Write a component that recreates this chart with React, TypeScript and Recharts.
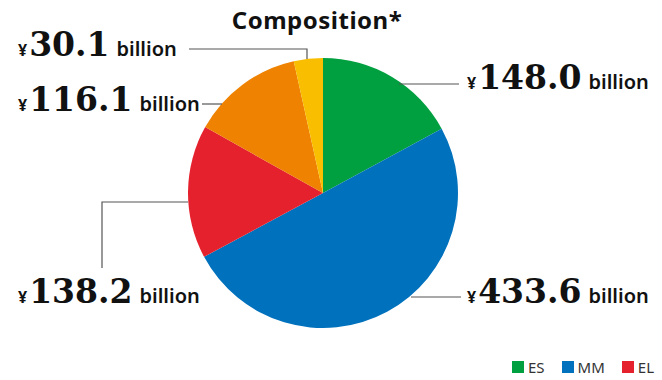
import React from 'react';
import { PieChart, Pie, Cell, Legend } from 'recharts';

const categories = ['ES', 'MM', 'EL', 'Other A', 'Other B'];
const values = [148.0, 433.6, 138.2, 116.1, 30.1];
const valueLabels = ['148.0', '433.6', '138.2', '116.1', '30.1'];
const colors = ['#00a040', '#0071bc', '#e6212e', '#ef8200', '#f9be00'];
const legendCategories = ['ES', 'MM', 'EL'];

const data = categories.map((name, i) => ({ name, value: values[i], label: valueLabels[i] }));

// label layout, offsets relative to pie center
type Layout = { tx: number; ty: number; line: [number, number][] };
const labelLayout: Layout[] = [
  { tx: 144, ty: -104, line: [[76, -109], [136, -109]] },
  { tx: 144, ty: 110, line: [[88, 104], [138, 104]] },
  { tx: -305, ty: 110, line: [[-135, 9], [-221, 9], [-221, 75]] },
  { tx: -305, ty: -82, line: [[-101, -89], [-121, -89]] },
  { tx: -305, ty: -137, line: [[-16, -134], [-16, -144], [-134, -144]] },
];

const renderLabel = (props: any) => {
  const { cx, cy, index } = props;
  const l = labelLayout[index];
  const pts = l.line.map(([x, y]) => `${cx + x},${cy + y}`).join(' ');
  return (
    <g key={`lbl-${index}`}>
      <polyline points={pts} fill="none" stroke="#555" strokeWidth={1.2} />
      <text x={cx + l.tx} y={cy + l.ty} textAnchor="start" fill="#111">
        <tspan fontFamily="'Noto Sans', sans-serif" fontWeight={700} fontSize={16}>¥</tspan>
        <tspan fontFamily="'DejaVu Serif', serif" fontWeight={700} fontSize={33} dx={2}>{data[index].label}</tspan>
        <tspan fontFamily="'Noto Sans', sans-serif" fontWeight={600} fontSize={20} dx={7}>billion</tspan>
      </text>
    </g>
  );
};

const renderLegend = (props: any) => {
  const payload = legendCategories
    .map((c) => (props.payload || []).find((p: any) => p.value === c))
    .filter(Boolean);
  return (
    <div style={{ display: 'flex', alignItems: 'center', fontFamily: "'Noto Sans', sans-serif", fontSize: 15, color: '#333', lineHeight: '16px' }}>
      {payload.map((p: any, i: number) => (
        <div key={i} style={{ display: 'flex', alignItems: 'center', marginLeft: i === 0 ? 0 : 17 }}>
          <span style={{ display: 'inline-block', width: 12, height: 12, background: p.color, marginRight: 4 }} />
          <span>{p.value}</span>
        </div>
      ))}
    </div>
  );
};

export default function App() {
  return (
    <div style={{ position: 'absolute', left: 0, top: 0, width: 662, height: 380, background: '#fff' }}>
      <PieChart width={662} height={380} margin={{ top: 0, right: 0, bottom: 0, left: 0 }}>
        <text x={317} y={29} textAnchor="middle" fontFamily="'Noto Sans', sans-serif" fontWeight={700} fontSize={24} letterSpacing={0.5} fill="#111">
          Composition*
        </text>
        <Pie
          data={data}
          dataKey="value"
          nameKey="name"
          cx={323}
          cy={193}
          outerRadius={135}
          startAngle={90}
          endAngle={-270}
          stroke="none"
          label={renderLabel}
          labelLine={false}
          isAnimationActive={false}
        >
          {data.map((d, i) => (
            <Cell key={d.name} fill={colors[i]} />
          ))}
        </Pie>
        <Legend content={renderLegend} wrapperStyle={{ left: 512, top: 359, width: 160, bottom: 'auto', right: 'auto' }} />
      </PieChart>
    </div>
  );
}
